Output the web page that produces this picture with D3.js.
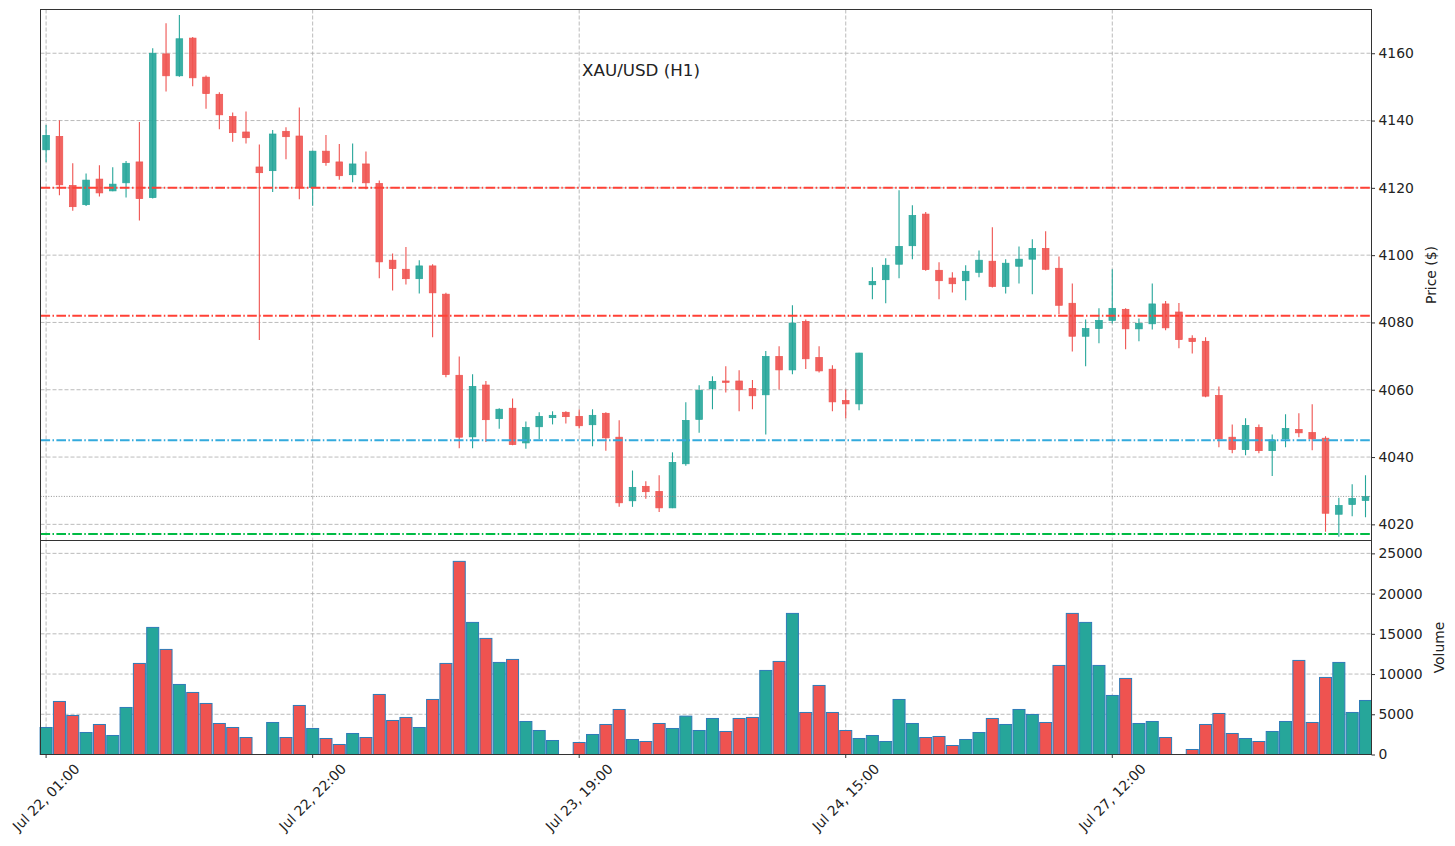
<!DOCTYPE html>
<html>
<head>
<meta charset="utf-8">
<script src="https://cdn.jsdelivr.net/npm/d3@7"></script>
<style>
  body { margin: 0; background: #fff; }
  svg { display: block; font-family: "DejaVu Sans", sans-serif; }
</style>
</head>
<body>
<svg id="chart" width="1455" height="846"></svg>
<script>
// hourly bars
const opens = [4131.3,4135.3,4120.7,4115.0,4122.6,4119.1,4121.5,4127.7,4117.1,4159.8,
  4153.3,4164.5,4152.9,4147.8,4141.2,4136.6,4126.2,4125.1,4136.8,4135.4,
  4120.1,4130.9,4127.7,4123.9,4127.1,4121.3,4098.5,4095.8,4093.0,4096.8,
  4088.4,4064.3,4046.0,4061.4,4051.4,4054.5,4044.2,4049.0,4051.7,4053.3,
  4052.1,4049.6,4053.0,4045.9,4027.0,4031.3,4029.8,4024.9,4038.0,4051.2,
  4060.3,4062.6,4062.6,4060.4,4058.5,4069.9,4065.9,4080.3,4069.6,4066.1,
  4056.8,4055.8,4091.2,4092.7,4097.3,4102.8,4112.2,4095.5,4093.2,4092.4,
  4094.9,4098.2,4090.7,4096.7,4098.8,4102.0,4096.1,4085.7,4075.9,4078.2,
  4080.6,4083.9,4078.1,4079.6,4085.5,4083.1,4075.3,4074.4,4058.3,4045.9,
  4042.2,4048.8,4041.9,4045.4,4048.2,4047.3,4045.6,4023.0,4025.9,4027.1];
const highs = [4138.7,4140.1,4127.3,4124.3,4126.7,4126.1,4128.0,4139.6,4161.5,4168.9,
  4171.4,4164.8,4153.4,4148.4,4142.4,4142.7,4132.9,4137.2,4138.0,4143.9,
  4131.0,4135.7,4133.0,4133.2,4130.8,4122.2,4100.5,4102.4,4098.5,4097.3,
  4088.8,4069.9,4064.6,4062.6,4054.5,4057.4,4050.6,4053.3,4053.6,4053.6,
  4054.1,4054.2,4053.3,4050.9,4036.0,4032.8,4034.6,4041.4,4056.3,4061.3,
  4064.0,4067.0,4065.8,4062.9,4071.5,4072.9,4085.1,4080.9,4072.9,4067.3,
  4060.1,4071.0,4096.4,4099.1,4119.3,4114.8,4112.8,4097.9,4094.9,4097.0,
  4101.4,4108.3,4098.8,4102.6,4104.7,4107.1,4099.6,4091.6,4080.9,4084.2,
  4095.8,4084.2,4081.2,4091.6,4086.4,4085.8,4076.2,4075.6,4061.0,4049.7,
  4051.5,4049.7,4046.7,4052.7,4053.0,4055.7,4046.2,4027.9,4031.9,4034.6];
const lows = [4127.6,4117.8,4113.2,4114.6,4117.4,4119.0,4117.1,4110.3,4116.8,4148.6,
  4153.0,4150.2,4143.5,4137.4,4133.7,4133.2,4074.8,4118.8,4128.5,4116.6,
  4114.7,4126.6,4122.4,4121.7,4119.6,4093.1,4089.5,4091.3,4088.6,4075.6,
  4063.7,4042.6,4042.6,4044.5,4048.4,4043.5,4042.5,4045.3,4049.7,4050.0,
  4048.5,4043.2,4041.9,4025.2,4025.2,4027.6,4023.7,4024.8,4037.4,4047.2,
  4054.2,4059.2,4053.6,4054.2,4046.7,4060.1,4064.6,4066.2,4065.1,4053.6,
  4051.5,4053.9,4086.9,4085.7,4093.1,4098.8,4095.4,4086.9,4088.9,4086.6,
  4093.4,4090.4,4088.6,4091.6,4088.4,4095.5,4082.4,4071.4,4067.0,4073.8,
  4079.7,4072.0,4074.4,4077.9,4077.7,4072.3,4070.8,4057.8,4042.9,4041.1,
  4040.5,4041.1,4034.4,4042.9,4045.9,4042.0,4017.8,4016.3,4022.4,4022.1];
const closes = [4135.6,4120.9,4114.4,4122.3,4118.5,4121.1,4127.3,4116.8,4160.0,4153.3,
  4164.3,4152.7,4148.0,4141.7,4136.4,4134.9,4124.5,4136.0,4135.2,4120.1,
  4130.9,4127.5,4123.6,4127.1,4121.5,4098.0,4096.0,4093.0,4096.8,4088.8,
  4064.5,4045.9,4061.0,4051.1,4054.2,4043.7,4048.8,4052.1,4052.4,4052.0,
  4049.3,4052.4,4045.7,4026.4,4031.0,4029.7,4024.9,4038.4,4050.9,4059.8,
  4062.5,4062.2,4060.0,4058.2,4069.9,4065.9,4079.8,4069.2,4065.6,4056.4,
  4055.8,4070.9,4092.2,4097.0,4102.6,4111.8,4095.7,4092.4,4091.5,4095.2,
  4098.5,4090.7,4097.6,4098.8,4102.0,4095.8,4085.1,4075.9,4078.2,4080.6,
  4084.2,4078.1,4079.7,4085.5,4078.4,4074.9,4074.3,4058.1,4045.4,4042.2,
  4049.4,4041.9,4045.1,4048.5,4047.2,4045.4,4023.3,4025.6,4027.7,4028.3];
const volumes = [3358,6592,4851,2736,3731,2363,5846,11318,15796,13060,
  8706,7711,6343,3856,3358,2114,0,3980,2114,6095,
  3234,1990,1244,2612,2114,7463,4229,4602,3358,6841,
  11318,24005,16418,14428,11443,11816,4104,2985,1741,0,
  1493,2488,3731,5597,1866,1617,3856,3234,4768,2985,
  4478,2861,4478,4602,10448,11567,17537,5224,8582,5224,
  2985,1990,2363,1617,6841,3856,2114,2239,1119,1866,
  2736,4478,3731,5597,4975,3980,11070,17537,16418,11070,
  7338,9453,3856,4104,2114,0,622,3731,5100,2612,
  1990,1617,2861,4104,11692,3980,9577,11443,5224,6716];

const tickIdx = [0, 20, 40, 60, 80];
const tickLabels = ['Jul 22, 01:00', 'Jul 22, 22:00', 'Jul 23, 19:00', 'Jul 24, 15:00', 'Jul 27, 12:00'];
const priceTicks = [4020, 4040, 4060, 4080, 4100, 4120, 4140, 4160];
const volumeTicks = [0, 5000, 10000, 15000, 20000, 25000];

// horizontal levels
const levels = [
  { price: 4120, color: '#ff4136' },
  { price: 4082, color: '#ff4136' },
  { price: 4045, color: '#33aadd' },
  { price: 4017.1, color: '#00bb44' }
];

const UP = '#26a69a', DOWN = '#ef5350';

const svg = d3.select('#chart');
const L = 40.5, R = 1371.5;
const pTop = 9.5, pBot = 540.5, vTop = 540.5, vBot = 754.5;

const x = d3.scaleLinear().domain([-0.42, 99.45]).range([L, R]);
const y = d3.scaleLinear().domain([4015.2, 4173.0]).range([pBot, pTop]);
const yv = d3.scaleLinear().domain([0, 26600]).range([vBot, vTop]);
const step = x(1) - x(0);

const bars = opens.map((o, i) => ({ i, o, h: highs[i], l: lows[i], c: closes[i], v: volumes[i] }));
const col = d => d.c >= d.o ? UP : DOWN;

svg.append('defs').append('clipPath').attr('id', 'clipP')
  .append('rect').attr('x', L).attr('y', pTop).attr('width', R - L).attr('height', pBot - pTop);

// grid
const grid = svg.append('g').attr('stroke', '#aaa').attr('stroke-width', 0.8).attr('stroke-dasharray', '4,2');
grid.selectAll('.gy').data(priceTicks).join('line')
  .attr('x1', L).attr('x2', R).attr('y1', d => y(d)).attr('y2', d => y(d));
grid.selectAll('.gv').data(volumeTicks.slice(1)).join('line')
  .attr('x1', L).attr('x2', R).attr('y1', d => yv(d)).attr('y2', d => yv(d));
grid.selectAll('.gx').data(tickIdx).join('line')
  .attr('x1', d => x(d)).attr('x2', d => x(d)).attr('y1', pTop).attr('y2', vBot);

// candles
const cg = svg.append('g').attr('clip-path', 'url(#clipP)');
cg.selectAll('.wick').data(bars).join('line')
  .attr('x1', d => x(d.i)).attr('x2', d => x(d.i))
  .attr('y1', d => y(d.h)).attr('y2', d => y(d.l))
  .attr('stroke', col).attr('stroke-width', 1.1);
const bw = step * 0.5;
cg.selectAll('.body').data(bars).join('rect')
  .attr('x', d => x(d.i) - bw / 2).attr('width', bw)
  .attr('y', d => y(Math.max(d.o, d.c)))
  .attr('height', d => Math.max(0.8, Math.abs(y(d.o) - y(d.c))))
  .attr('fill', col).attr('fill-opacity', 0.9)
  .attr('stroke', col).attr('stroke-width', 0.7);

// last close dotted line
svg.append('line')
  .attr('x1', L).attr('x2', R)
  .attr('y1', y(closes[closes.length - 1])).attr('y2', y(closes[closes.length - 1]))
  .attr('stroke', '#888').attr('stroke-width', 0.9).attr('stroke-dasharray', '1,1.6');

// level lines
svg.append('g').selectAll('line').data(levels).join('line')
  .attr('x1', L).attr('x2', R).attr('y1', d => y(d.price)).attr('y2', d => y(d.price))
  .attr('stroke', d => d.color).attr('stroke-width', 2)
  .attr('stroke-dasharray', '9.6,2.4,1.5,2.4');

// volume bars
const vw = step * 0.9;
svg.append('g').selectAll('rect').data(bars.filter(d => d.v > 0)).join('rect')
  .attr('x', d => x(d.i) - vw / 2).attr('width', vw)
  .attr('y', d => yv(d.v)).attr('height', d => yv(0) - yv(d.v))
  .attr('fill', col).attr('stroke', '#2e7bb8').attr('stroke-width', 1);

// frames
svg.append('rect').attr('x', L).attr('y', pTop).attr('width', R - L).attr('height', pBot - pTop)
  .attr('fill', 'none').attr('stroke', '#333').attr('stroke-width', 1);
svg.append('rect').attr('x', L).attr('y', vTop).attr('width', R - L).attr('height', vBot - vTop)
  .attr('fill', 'none').attr('stroke', '#333').attr('stroke-width', 1);

// right axes
const axP = svg.append('g').attr('transform', `translate(${R},0)`)
  .call(d3.axisRight(y).tickValues(priceTicks).tickFormat(d3.format('d')).tickSize(3.5).tickPadding(3.5));
const axV = svg.append('g').attr('transform', `translate(${R},0)`)
  .call(d3.axisRight(yv).tickValues(volumeTicks).tickFormat(d3.format('d')).tickSize(3.5).tickPadding(3.5));
[axP, axV].forEach(a => {
  a.select('.domain').remove();
  a.selectAll('line').attr('stroke', '#333');
  a.selectAll('text').attr('font-size', 13.9).attr('fill', '#222')
    .attr('font-family', '"DejaVu Sans", sans-serif');
});

// bottom axis
const axX = svg.append('g').attr('transform', `translate(0,${vBot})`);
axX.selectAll('line').data(tickIdx).join('line')
  .attr('x1', d => x(d)).attr('x2', d => x(d)).attr('y1', 0).attr('y2', 3.5)
  .attr('stroke', '#333');
axX.selectAll('g.lbl').data(tickIdx).join('g').attr('class', 'lbl')
  .each(function (d, k) {
    const g = d3.select(this);
    const t = g.append('text').text(tickLabels[k])
      .attr('font-size', 13.9).attr('fill', '#222')
      .attr('text-anchor', 'middle').attr('dy', '0.35em');
    const w = t.node().getComputedTextLength();
    const half = (w + 13.9) * Math.SQRT1_2 / 2;
    g.attr('transform', `translate(${x(d)},${7 + half}) rotate(-45)`);
  });

// labels
svg.append('text').attr('transform', `translate(1431,${(pTop + pBot) / 2}) rotate(-90)`)
  .attr('text-anchor', 'middle').attr('dy', '0.35em').attr('font-size', 13.9).attr('fill', '#222')
  .text('Price ($)');
svg.append('text').attr('transform', `translate(1439,${(vTop + vBot) / 2}) rotate(-90)`)
  .attr('text-anchor', 'middle').attr('dy', '0.35em').attr('font-size', 13.9).attr('fill', '#222')
  .text('Volume');

svg.append('text').attr('x', 641).attr('y', 76).attr('text-anchor', 'middle')
  .attr('font-size', 16.7).attr('fill', '#222').text('XAU/USD (H1)');
</script>
</body>
</html>
